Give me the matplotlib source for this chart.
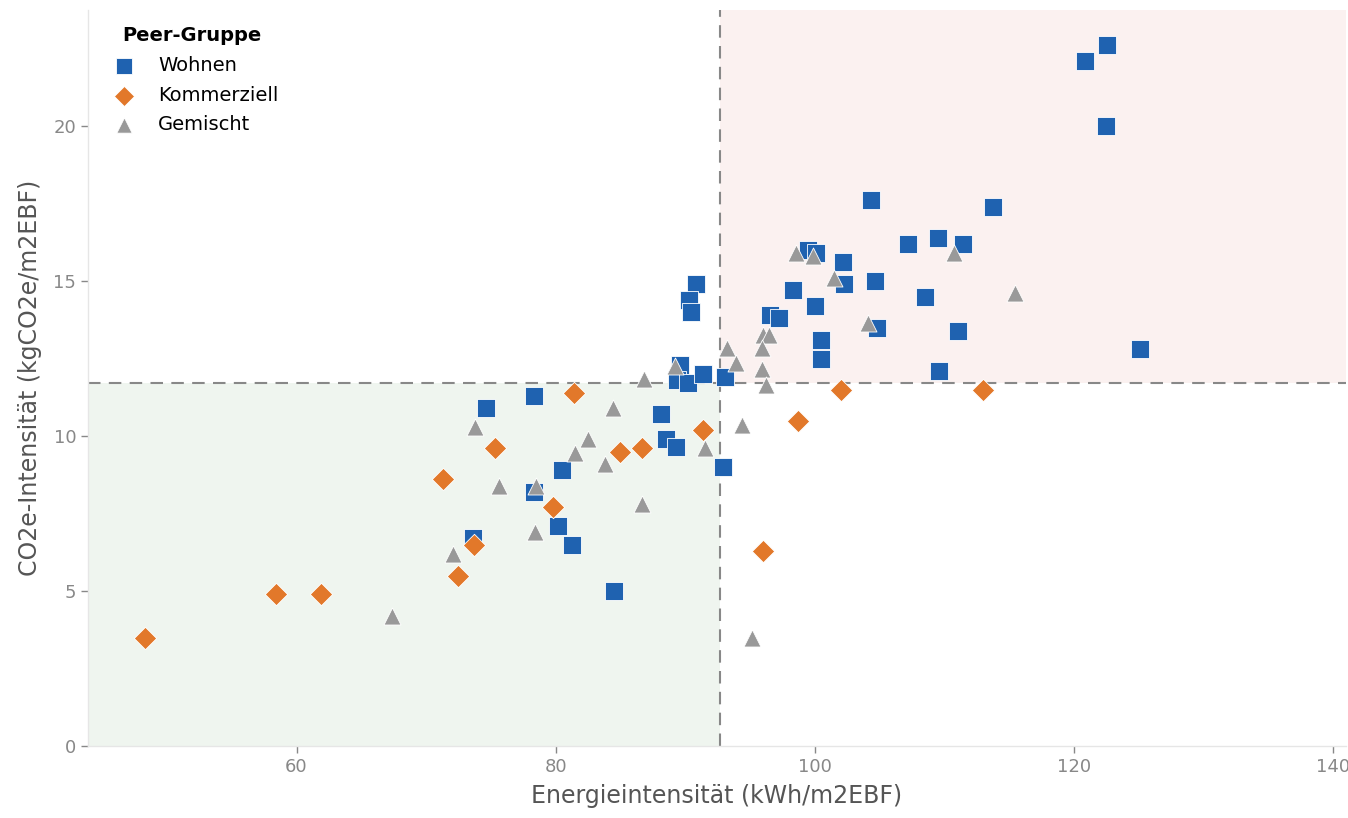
import matplotlib
matplotlib.use("Agg")
import matplotlib.pyplot as plt

# Wohnen (blue squares)
wohnen_x = [122.6, 120.85, 122.5, 104.35, 113.8, 107.2, 109.5, 111.45, 99.5, 100.1,
            102.2, 104.65, 102.3, 90.85, 90.3, 90.45, 98.3, 100.0, 108.5, 96.55,
            97.25, 104.8, 111.1, 100.5, 100.5, 125.1, 109.6, 89.6, 89.4, 90.2,
            91.4, 93.1, 74.6, 78.3, 88.1, 88.5, 89.3, 92.9, 80.5, 78.3,
            80.2, 81.3, 73.6, 84.5]
wohnen_y = [22.6, 22.1, 20.0, 17.6, 17.4, 16.2, 16.4, 16.2, 16.0, 15.9,
            15.6, 15.0, 14.9, 14.9, 14.4, 14.0, 14.7, 14.2, 14.5, 13.9,
            13.8, 13.5, 13.4, 13.1, 12.5, 12.8, 12.1, 12.3, 11.8, 11.7,
            12.0, 11.9, 10.9, 11.3, 10.7, 9.9, 9.65, 9.0, 8.9, 8.2,
            7.1, 6.5, 6.7, 5.0]

# Kommerziell (orange diamonds)
komm_x = [48.3, 58.4, 61.9, 71.3, 72.5, 73.7, 75.3, 79.8, 81.4, 85.0,
          86.7, 91.4, 96.0, 98.7, 102.0, 113.0]
komm_y = [3.5, 4.9, 4.9, 8.6, 5.5, 6.5, 9.6, 7.7, 11.4, 9.5,
          9.6, 10.2, 6.3, 10.5, 11.5, 11.5]

# Gemischt (grey triangles)
gem_x = [67.4, 72.1, 73.8, 75.65, 78.5, 78.4, 82.5, 81.5, 83.8, 84.45,
         86.7, 86.8, 91.55, 94.4, 89.2, 93.25, 93.95, 98.55, 99.9, 101.5,
         110.75, 115.5, 104.1, 96.0, 96.5, 95.9, 95.9, 96.25, 95.2]
gem_y = [4.2, 6.2, 10.3, 8.4, 8.4, 6.9, 9.9, 9.45, 9.1, 10.9,
         7.8, 11.85, 9.6, 10.35, 12.25, 12.85, 12.35, 15.9, 15.8, 15.1,
         15.9, 14.6, 13.65, 13.25, 13.25, 12.85, 12.15, 11.65, 3.5]

x_thr = 92.7
y_thr = 11.7
xlim = (43.9, 141.0)
ylim = (0, 23.75)

fig = plt.figure(figsize=(13.48, 8.18), dpi=100)
ax = fig.add_axes([0.0653, 0.088, 0.933, 0.9])

# quadrant shading
ax.fill_between([xlim[0], x_thr], 0, y_thr, color="#eff5ef", zorder=0, linewidth=0)
ax.fill_between([x_thr, xlim[1]], y_thr, ylim[1], color="#fbf1f0", zorder=0, linewidth=0)

ax.axvline(x_thr, color="#888888", linestyle=(0, (6, 4)), linewidth=1.5, zorder=1)
ax.axhline(y_thr, color="#888888", linestyle=(0, (6, 4)), linewidth=1.5, zorder=1)

ax.scatter(wohnen_x, wohnen_y, marker="s", s=150, color="#1f62b0",
           edgecolors="white", linewidths=0.6, label="Wohnen", zorder=3)
ax.scatter(komm_x, komm_y, marker="D", s=130, color="#e2782a",
           edgecolors="white", linewidths=0.6, label="Kommerziell", zorder=3)
ax.scatter(gem_x, gem_y, marker="^", s=150, color="#999999",
           edgecolors="white", linewidths=0.6, label="Gemischt", zorder=3)

ax.set_xlim(*xlim)
ax.set_ylim(*ylim)
ax.set_xticks([60, 80, 100, 120, 140])
ax.set_yticks([0, 5, 10, 15, 20])

for side in ["top", "right"]:
    ax.spines[side].set_visible(False)
for side in ["left", "bottom"]:
    ax.spines[side].set_color("#e6e6e6")
    ax.spines[side].set_linewidth(1.0)
ax.tick_params(colors="#888888", labelsize=13, length=5, width=1)

ax.set_xlabel("Energieintensität (kWh/m2EBF)", fontsize=17, color="#555555", labelpad=6)
ax.set_ylabel("CO2e-Intensität (kgCO2e/m2EBF)", fontsize=17, color="#555555", labelpad=8)

leg = ax.legend(title="Peer-Gruppe", loc="upper left", frameon=False, fontsize=14,
                title_fontsize=14, borderaxespad=0.45, handletextpad=0.75,
                labelspacing=0.55, markerscale=0.9)
leg.get_title().set_fontweight("bold")

fig.savefig("out.png", dpi=100)
